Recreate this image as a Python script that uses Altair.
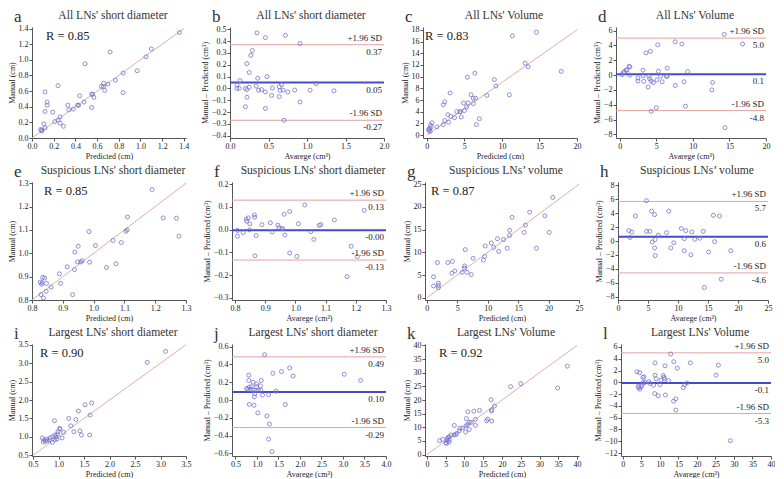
import altair as alt
import pandas as pd

FONT = "Liberation Serif"
PT_COLOR = "#7474cc"
PINK = "#e2a2a2"
BLUE = "#4848cc"
TXT = "#222222"

# ---------------- data ----------------
# a: All LNs' short diameter (Predicted vs Manual)
A_PRED = [1.36, 1.10, 1.05, 0.72, 0.49, 0.97, 0.84, 0.77, 0.70, 0.66, 0.64, 0.66, 0.67, 0.84, 0.55,
          0.56, 0.57, 0.48, 0.55, 0.44, 0.42, 0.43, 0.38, 0.34, 0.33, 0.24, 0.12, 0.14, 0.14, 0.12,
          0.19, 0.26, 0.24, 0.21, 0.26, 0.29, 0.12, 0.11, 0.08, 0.09, 0.09]
A_MAN = [1.35, 1.14, 1.04, 1.10, 0.95, 0.86, 0.83, 0.74, 0.69, 0.70, 0.66, 0.66, 0.61, 0.58, 0.56,
         0.56, 0.52, 0.46, 0.39, 0.54, 0.42, 0.42, 0.37, 0.36, 0.42, 0.67, 0.59, 0.46, 0.42, 0.34,
         0.33, 0.27, 0.23, 0.21, 0.19, 0.15, 0.13, 0.18, 0.11, 0.10, 0.09]

# b: Bland-Altman, All LNs' short diameter
B_AVG = [0.35, 0.46, 0.72, 0.91, 0.29, 0.27, 0.22, 0.25, 0.13, 0.36, 0.48, 0.09, 0.09, 0.12, 0.20,
         0.22, 0.25, 0.34, 0.37, 0.41, 0.46, 0.55, 0.64, 0.67, 0.65, 0.69, 0.75, 0.84, 1.04, 1.12,
         1.35, 0.22, 0.54, 0.64, 0.20, 0.46, 0.70, 0.91]
B_DIFF = [0.47, 0.43, 0.45, 0.38, 0.32, 0.28, 0.21, 0.135, 0.066, 0.086, 0.10, 0.03, 0.0, 0.0, 0.0,
          -0.01, 0.01, 0.02, -0.015, -0.01, -0.03, 0.003, 0.014, 0.033, -0.017, -0.014, -0.03, -0.014,
          -0.015, 0.04, -0.02, -0.075, -0.06, -0.07, -0.155, -0.17, -0.27, -0.115]
B_STATS = [0.37, 0.05, -0.27]
B_LABELS = ["0.37", "0.05", "-0.27"]

# c: All LNs' Volume
C_PRED = [11.4, 14.6, 13.1, 13.5, 17.9, 6.4, 5.4, 9.0, 9.2, 3.1, 5.9, 11.0, 8.0, 6.2, 6.5, 2.4, 2.2,
          5.5, 4.9, 6.2, 5.3, 4.4, 4.0, 4.5, 5.0, 2.8, 3.2, 3.7, 4.6, 7.0, 6.6, 2.4, 2.9, 2.2, 1.35,
          0.7, 0.5, 0.6, 0.4, 0.3, 0.45, 0.25]
C_MAN = [17.0, 17.6, 12.3, 11.7, 10.9, 10.6, 9.9, 9.5, 8.4, 7.2, 6.9, 6.9, 6.8, 6.3, 6.3, 5.7, 5.2,
         5.5, 5.5, 5.4, 4.8, 4.0, 4.0, 4.0, 4.2, 3.5, 3.2, 3.0, 3.1, 2.8, 1.8, 2.5, 2.2, 1.8, 1.4,
         2.1, 1.7, 1.4, 1.1, 0.8, 0.6, 1.0]

# d: Bland-Altman, All LNs' Volume
D_AVG = [14.3, 16.8, 7.6, 8.5, 5.2, 4.2, 3.6, 6.5, 9.3, 3.2, 5.3, 1.3, 1.4, 0.9, 1.0, 0.65, 0.5, 0.3,
         1.4, 2.5, 3.2, 4.0, 5.6, 6.4, 6.5, 4.1, 4.3, 4.6, 3.9, 5.1, 5.8, 3.3, 2.5, 7.6, 8.8, 12.7,
         12.6, 5.0, 4.3, 9.0, 14.4]
D_DIFF = [5.5, 4.2, 4.5, 4.2, 4.1, 3.2, 3.0, 0.94, 0.47, 0.66, 0.52, 1.2, 1.1, 0.7, 0.66, 0.47, 0.3,
          0.05, 0.0, -0.4, -0.1, -0.15, -0.14, -0.2, -0.1, -0.5, -0.8, -1.0, -1.6, -0.65, -0.9, -0.85,
          -0.8, -1.4, -0.9, -1.0, -2.0, -4.4, -4.9, -4.2, -7.1]
D_STATS = [5.0, 0.1, -4.8]
D_LABELS = ["5.0", "0.1", "-4.8"]

# e: Suspicious LNs' short diameter
E_PRED = [1.19, 1.11, 1.226, 1.269, 1.277, 0.985, 1.109, 1.105, 1.063, 1.09, 1.006, 0.95, 0.939,
          0.948, 0.958, 0.963, 0.987, 0.938, 1.042, 1.073, 0.914, 0.889, 0.893, 0.862, 0.846, 0.829,
          0.837, 0.932, 0.835, 0.841, 0.827, 0.833, 0.847, 0.831]
E_MAN = [1.273, 1.155, 1.151, 1.15, 1.073, 1.093, 1.10, 1.094, 1.055, 1.046, 1.033, 1.03, 1.005,
         0.963, 0.963, 0.968, 0.962, 0.93, 0.939, 0.955, 0.942, 0.912, 0.871, 0.855, 0.837, 0.823,
         0.809, 0.823, 0.897, 0.894, 0.877, 0.874, 0.871, 0.867]

# f: Bland-Altman, Suspicious LNs' short diameter
F_AVG = [0.808, 0.808, 0.827, 0.837, 0.839, 0.844, 0.849, 0.848, 0.864, 0.865, 0.866, 0.87, 0.889,
         0.917, 0.923, 0.942, 0.946, 0.955, 0.958, 0.963, 0.965, 0.981, 0.981, 1.01, 1.005, 1.031,
         1.051, 1.061, 1.079, 1.084, 1.129, 1.185, 1.205, 1.171, 1.228]
F_DIFF = [-0.029, -0.003, -0.013, 0.046, 0.037, 0.052, 0.026, -0.001, 0.065, 0.055, -0.115, -0.026,
          0.022, 0.03, -0.01, 0.02, 0.009, 0.004, 0.004, 0.068, -0.024, 0.08, -0.103, 0.026, -0.118,
          0.109, -0.009, -0.043, 0.019, 0.022, 0.043, -0.073, -0.119, -0.207, 0.085]
F_STATS = [0.13, -0.003, -0.134]
F_LABELS = ["0.13", "-0.00", "-0.13"]

# g: Suspicious LNs' volume
G_PRED = [20.7, 16.9, 19.4, 14.0, 16.2, 13.6, 13.6, 16.0, 20.1, 12.6, 11.6, 10.6, 9.6, 11.0, 13.2,
          11.8, 18.0, 6.3, 9.5, 9.3, 7.6, 1.75, 3.45, 4.2, 6.2, 6.2, 4.6, 4.1, 5.8, 6.6, 7.3, 1.1,
          1.9, 1.9, 1.1, 1.9]
G_MAN = [22.1, 18.85, 18.05, 17.7, 16.0, 14.86, 13.7, 14.4, 14.4, 12.8, 13.0, 12.06, 11.4, 11.1, 10.9,
         10.2, 10.9, 10.6, 9.1, 8.3, 8.7, 7.75, 7.75, 8.0, 7.0, 6.5, 5.9, 5.4, 5.6, 5.6, 5.1, 4.6,
         3.2, 2.7, 2.6, 2.2]

# h: Bland-Altman, Suspicious LNs' volume
H_AVG = [4.75, 5.6, 6.1, 2.9, 8.45, 15.9, 16.9, 1.8, 2.3, 4.75, 5.3, 6.7, 8.1, 10.55, 11.3, 12.3, 14.2,
         2.0, 11.05, 12.8, 13.65, 5.7, 6.2, 16.1, 9.3, 6.1, 8.8, 11.05, 15.1, 18.8, 6.2, 12.15, 17.2,
         14.4]
H_DIFF = [5.8, 4.3, 3.8, 3.6, 4.3, 3.7, 3.6, 1.5, 1.3, 1.4, 1.4, 0.84, 1.2, 1.8, 1.5, 1.3, 1.4, 0.5,
          0.34, 0.25, 0.4, -0.15, 0.2, -0.1, -0.25, -1.0, -1.0, -1.4, -1.6, -1.4, -2.1, -2.0, -5.5,
          -6.7]
H_STATS = [5.7, 0.6, -4.6]
H_LABELS = ["5.7", "0.6", "-4.6"]

# i: Largest LNs' short diameter
I_PRED = [3.10, 2.74, 1.65, 1.52, 1.39, 1.62, 1.20, 1.34, 1.24, 1.02, 0.92, 1.42, 1.30, 1.61, 1.45,
          1.10, 0.99, 1.03, 0.98, 0.93, 0.89, 0.95, 0.97, 1.07, 0.93, 0.84, 0.82, 0.78, 0.74, 0.72,
          0.68, 0.70, 0.88, 0.77]
I_MAN = [3.32, 3.02, 1.92, 1.87, 1.70, 1.59, 1.50, 1.47, 1.30, 1.23, 1.44, 1.16, 1.14, 1.05, 1.05,
         1.12, 1.14, 1.21, 1.08, 1.05, 1.01, 1.00, 0.94, 0.97, 0.92, 0.98, 0.92, 0.89, 0.88, 0.92,
         0.97, 0.86, 0.85, 0.94]

# j: Bland-Altman, Largest LNs' short diameter
J_AVG = [1.18, 1.76, 1.57, 1.37, 3.03, 1.84, 3.41, 0.81, 0.81, 0.91, 1.10, 0.99, 1.08, 0.99, 0.87,
         0.82, 0.76, 0.79, 0.86, 0.91, 0.98, 1.03, 1.09, 1.44, 0.95, 1.13, 1.27, 0.94, 0.82, 0.93,
         1.66, 1.02, 1.23, 1.29, 1.27, 1.35]
J_DIFF = [0.51, 0.36, 0.32, 0.30, 0.29, 0.27, 0.22, 0.28, 0.22, 0.20, 0.22, 0.18, 0.16, 0.15, 0.15,
          0.145, 0.13, 0.12, 0.12, 0.11, 0.11, 0.11, 0.11, 0.10, 0.07, 0.055, 0.06, 0.035, -0.05,
          -0.06, -0.05, -0.145, -0.18, -0.27, -0.44, -0.58]
J_STATS = [0.485, 0.09, -0.31]
J_LABELS = ["0.49", "0.10", "-0.29"]

# k: Largest LNs' Volume
K_PRED = [37.4, 34.8, 25.0, 22.3, 17.1, 18.0, 17.3, 17.2, 14.0, 12.5, 10.9, 10.5, 12.9, 16.2, 15.9,
          17.3, 11.3, 11.8, 10.8, 7.3, 12.9, 10.4, 11.3, 8.8, 9.5, 8.6, 10.3, 7.9, 7.6, 7.2, 6.4, 5.9,
          5.7, 5.4, 6.0, 4.2, 3.4, 5.4, 5.9, 5.1, 5.2]
K_MAN = [32.4, 24.4, 26.0, 24.9, 20.1, 17.8, 16.4, 16.0, 16.2, 15.9, 15.7, 13.2, 12.9, 13.0, 12.4,
         12.3, 11.8, 11.8, 11.0, 10.7, 10.7, 10.5, 9.2, 9.7, 9.7, 8.7, 8.3, 7.7, 7.3, 7.2, 7.2, 6.5,
         6.3, 5.9, 5.5, 5.6, 5.1, 5.1, 4.6, 4.3, 4.1]

# l: Bland-Altman, Largest LNs' Volume
L_AVG = [12.9, 8.7, 13.75, 18.2, 25.8, 11.4, 14.7, 25.2, 3.8, 4.55, 5.7, 5.4, 8.7, 10.9, 11.1, 9.0,
         11.25, 10.3, 12.3, 7.0, 6.0, 5.5, 7.3, 8.3, 10.0, 17.3, 16.7, 16.3, 4.1, 4.3, 4.55, 4.9, 5.2,
         8.6, 9.55, 11.5, 14.3, 13.7, 14.3, 29.0]
L_DIFF = [4.8, 3.3, 3.5, 3.3, 2.9, 2.8, 2.4, 1.2, 1.8, 1.65, 0.94, 0.83, 1.2, 1.16, 0.83, 0.6, 0.55,
          0.39, 0.28, 0.11, 0.0, -0.05, -0.2, -0.5, -0.4, -0.1, -0.4, -0.9, -0.7, -0.9, -1.16, -0.77,
          -0.5, -1.9, -2.27, -2.15, -2.8, -3.2, -4.7, -9.9]
L_STATS = [5.0, -0.1, -5.3]
L_LABELS = ["5.0", "-0.1", "-5.3"]


# ---------------- helpers ----------------
def axis(title, values, fmt):
    return alt.Axis(title=title, values=values, format=fmt, grid=False)


def header_layers(letter, title, W):
    lt = alt.Chart(pd.DataFrame({"t": [letter]})).mark_text(
        font=FONT, fontSize=17, fontWeight="normal", align="left", baseline="alphabetic",
        color="#333333"
    ).encode(text="t:N", x=alt.value(-18), y=alt.value(-5))
    tt = alt.Chart(pd.DataFrame({"t": [title]})).mark_text(
        font=FONT, fontSize=11.6, fontWeight="normal", align="center", baseline="alphabetic",
        color="#333333"
    ).encode(text="t:N", x=alt.value(W / 2 + 4), y=alt.value(-8))
    return [lt, tt]


def scatter_panel(letter, title, xs, ys, xdom, ydom, xticks, yticks, fmt, line, r_text, r_dx, W, H):
    xsc = alt.Scale(domain=xdom, nice=False, zero=False)
    ysc = alt.Scale(domain=ydom, nice=False, zero=False)
    xax = axis("Predicted (cm)", xticks, fmt)
    yax = axis("Manual (cm)", yticks, fmt)
    df = pd.DataFrame({"x": xs, "y": ys})
    ldf = pd.DataFrame({"x": line[0], "y": line[1]})
    ln = alt.Chart(ldf).mark_line(color=PINK, strokeWidth=0.9).encode(
        x=alt.X("x:Q", scale=xsc, axis=xax), y=alt.Y("y:Q", scale=ysc, axis=yax))
    pts = alt.Chart(df).mark_point(shape="circle", filled=False, size=16, strokeWidth=0.8,
                                   color=PT_COLOR, opacity=1).encode(
        x=alt.X("x:Q", scale=xsc, axis=xax), y=alt.Y("y:Q", scale=ysc, axis=yax))
    rt = alt.Chart(pd.DataFrame({"t": [r_text]})).mark_text(
        font=FONT, fontSize=12.5, align="left", baseline="middle", color=TXT
    ).encode(text="t:N", x=alt.value(r_dx), y=alt.value(9))
    return alt.layer(ln, pts, rt, *header_layers(letter, title, W)).properties(width=W, height=H)


def ba_panel(letter, title, xs, ys, xdom, ydom, xticks, yticks, xfmt, yfmt, stats, labels, W, H):
    xsc = alt.Scale(domain=xdom, nice=False, zero=False)
    ysc = alt.Scale(domain=ydom, nice=False, zero=False)
    xax = axis("Avarege (cm³)", xticks, xfmt)
    yax = axis("Manual – Predicted (cm³)", yticks, yfmt)
    df = pd.DataFrame({"x": xs, "y": ys})
    sd = pd.DataFrame({"y": [stats[0], stats[2]]})
    mn = pd.DataFrame({"y": [stats[1]]})
    above = pd.DataFrame({"x": [xdom[1], xdom[1]], "y": [stats[0], stats[2]],
                          "t": ["+1.96 SD", "-1.96 SD"]})
    below = pd.DataFrame({"x": [xdom[1]] * 3, "y": stats, "t": [labels[0], labels[1], labels[2]]})
    r1 = alt.Chart(sd).mark_rule(color=PINK, strokeWidth=1).encode(
        y=alt.Y("y:Q", scale=ysc, axis=yax))
    r2 = alt.Chart(mn).mark_rule(color=BLUE, strokeWidth=2).encode(
        y=alt.Y("y:Q", scale=ysc, axis=yax))
    pts = alt.Chart(df).mark_point(shape="circle", filled=False, size=16, strokeWidth=0.8,
                                   color=PT_COLOR, opacity=1).encode(
        x=alt.X("x:Q", scale=xsc, axis=xax), y=alt.Y("y:Q", scale=ysc, axis=yax))
    ta = alt.Chart(above).mark_text(font=FONT, fontSize=9, align="right", baseline="bottom",
                                    dy=-2, dx=-2, color=TXT).encode(
        x=alt.X("x:Q", scale=xsc, axis=xax), y=alt.Y("y:Q", scale=ysc, axis=yax), text="t:N")
    tb = alt.Chart(below).mark_text(font=FONT, fontSize=9, align="right", baseline="top",
                                    dy=3, dx=-2, color=TXT).encode(
        x=alt.X("x:Q", scale=xsc, axis=xax), y=alt.Y("y:Q", scale=ysc, axis=yax), text="t:N")
    return alt.layer(r1, r2, pts, ta, tb, *header_layers(letter, title, W)).properties(
        width=W, height=H)


def rng(a, b, s):
    out, v = [], a
    while v <= b + 1e-9:
        out.append(round(v, 4))
        v += s
    return out


H1, H2, H3 = 111, 118, 112
W1, W2, W3, W4 = 154, 154, 154, 150

pa = scatter_panel("a", "All LNs' short diameter", A_PRED, A_MAN, [0, 1.42], [0, 1.42],
                   rng(0, 1.4, 0.2), rng(0, 1.4, 0.2), ".1f", ([0, 1.4], [0, 1.4]),
                   "R = 0.85", 14, W1, H1)
pb = ba_panel("b", "All LNs' short diameter", B_AVG, B_DIFF, [0, 2.0], [-0.42, 0.52],
              rng(0, 2.0, 0.5), rng(-0.4, 0.5, 0.1), ".1f", ".1f", B_STATS, B_LABELS, W2, H1)
pc = scatter_panel("c", "All LNs' Volume", C_PRED, C_MAN, [-0.5, 20], [-0.5, 18.5],
                   rng(0, 20, 5), rng(0, 18, 2), "d", ([0, 20], [0, 18]),
                   "R = 0.83", 2, W3, H1)
pd_ = ba_panel("d", "All LNs' Volume", D_AVG, D_DIFF, [-0.5, 20], [-8.5, 6.5],
               rng(0, 20, 5), rng(-8, 6, 2), "d", "d", D_STATS, D_LABELS, W4, H1)

pe = scatter_panel("e", "Suspicious LNs' short diameter", E_PRED, E_MAN, [0.8, 1.3], [0.8, 1.305],
                   rng(0.8, 1.3, 0.1), rng(0.8, 1.3, 0.1), ".1f", ([0.8, 1.3], [0.8, 1.3]),
                   "R = 0.85", 12, W1, H2)
pf = ba_panel("f", "Suspicious LNs' short diameter", F_AVG, F_DIFF, [0.79, 1.3], [-0.31, 0.21],
              rng(0.8, 1.3, 0.1), rng(-0.3, 0.2, 0.1), ".1f", ".1f", F_STATS, F_LABELS, W2, H2)
pg = scatter_panel("g", "Suspicious LNs’ volume", G_PRED, G_MAN, [-0.3, 25], [-0.5, 25.5],
                   rng(0, 25, 5), rng(0, 25, 5), "d", ([0, 25], [0, 25]),
                   "R = 0.87", 6, W3, H2)
ph = ba_panel("h", "Suspicious LNs’ volume", H_AVG, H_DIFF, [0, 25], [-8.5, 8.5],
              rng(0, 25, 5), rng(-8, 8, 2), "d", "d", H_STATS, H_LABELS, W4, H2)

pi = scatter_panel("i", "Largest LNs' short diameter", I_PRED, I_MAN, [0.48, 3.5], [0.48, 3.52],
                   rng(0.5, 3.5, 0.5), rng(0.5, 3.5, 0.5), ".1f", ([0.5, 3.5], [0.5, 3.5]),
                   "R = 0.90", 8, W1, H3)
pj = ba_panel("j", "Largest LNs' short diameter", J_AVG, J_DIFF, [0.42, 4.0], [-0.63, 0.63],
              rng(0.5, 4.0, 0.5), rng(-0.6, 0.6, 0.2), ".1f", ".1f", J_STATS, J_LABELS, W2, H3)
pk = scatter_panel("k", "Largest LNs' Volume", K_PRED, K_MAN, [-0.5, 40.5], [-0.5, 40.5],
                   rng(0, 40, 5), rng(0, 40, 5), "d", ([0, 40], [0, 40]),
                   "R = 0.92", 14, W3, H3)
pl = ba_panel("l", "Largest LNs' Volume", L_AVG, L_DIFF, [-0.5, 40], [-12.5, 6.5],
              rng(0, 40, 5), rng(-12, 6, 2), "d", "d", L_STATS, L_LABELS, W4, H3)

row1 = alt.hconcat(pa, pb, pc, pd_, spacing=12)
row2 = alt.hconcat(pe, pf, pg, ph, spacing=12)
row3 = alt.hconcat(pi, pj, pk, pl, spacing=12)

chart = alt.vconcat(row1, row2, row3, spacing=3).properties(padding=0).configure_view(
    stroke=None
).configure_axis(
    grid=False, domainColor="#555555", tickColor="#555555", labelFont=FONT, titleFont=FONT,
    labelFontSize=8, titleFontSize=8, titleFontWeight="normal", tickSize=3, labelColor=TXT,
    titleColor=TXT, labelPadding=1, titlePadding=2, domainWidth=1, labelFlush=False
)

chart.save("out.html", embed_options={"renderer": "svg", "actions": False})
